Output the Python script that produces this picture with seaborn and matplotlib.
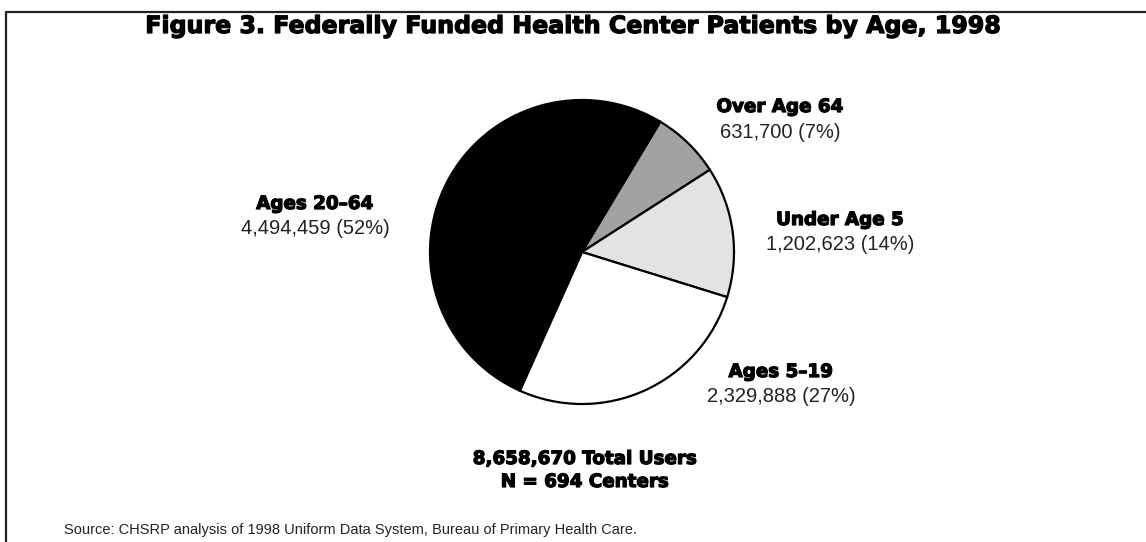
import matplotlib
matplotlib.use("Agg")
import matplotlib.pyplot as plt
import matplotlib.patheffects as pe
from matplotlib.lines import Line2D
import seaborn as sns

# ---- data ----
categories = ["Over Age 64", "Under Age 5", "Ages 5–19", "Ages 20–64"]
counts = [631700, 1202623, 2329888, 4494459]
slice_colors = ["#a2a2a2", "#e3e3e3", "#ffffff", "#000000"]
title = "Figure 3. Federally Funded Health Center Patients by Age, 1998"
total_line = "8,658,670 Total Users"
centers_line = "N = 694 Centers"
source = "Source: CHSRP analysis of 1998 Uniform Data System, Bureau of Primary Health Care."

sns.set_theme(style="white")
plt.rcParams["font.family"] = ["Liberation Sans", "DejaVu Sans"]

W, H = 1146, 542
fig = plt.figure(figsize=(W / 100, H / 100), dpi=100)
fig.patch.set_facecolor("white")

def fx(x):
    return x / W

def fy(y):
    return 1 - y / H

# pie axes: center (582, 252), radius 152 px
cx, cy, r = 582, 252, 152
ax = fig.add_axes([fx(cx - r), fy(cy + r), 2 * r / W, 2 * r / H])
ax.pie(counts, colors=slice_colors, startangle=59, counterclock=False,
       wedgeprops=dict(edgecolor="black", linewidth=1.6))
ax.set_xlim(-1.0, 1.0)
ax.set_ylim(-1.0, 1.0)
ax.set_aspect("auto")
ax.axis("off")

renderer = fig.canvas.get_renderer()

def fit(t, target_w):
    bb = t.get_window_extent(renderer=renderer)
    t.set_fontsize(t.get_fontsize() * target_w / bb.width)
    return t

thick = [pe.withStroke(linewidth=0.9, foreground="black")]
heavy = dict(family=["DejaVu Sans"], weight="heavy", color="black", path_effects=thick)
light = dict(family=["Liberation Sans", "DejaVu Sans"], weight="normal", color="#222222")

# title
t = fig.text(fx(573), fy(26), title, ha="center", va="center", fontsize=16, **heavy)
fit(t, 856)

total = sum(counts)
label_pos = {
    "Over Age 64": (780, 107),
    "Under Age 5": (840, 220),
    "Ages 5–19": (781, 372),
    "Ages 20–64": (315, 204),
}
# reference sizes
ref_bold = fig.text(0, 0, "Ages 5–19", fontsize=12, **heavy)
fit(ref_bold, 104)
bold_fs = ref_bold.get_fontsize()
ref_bold.remove()
ref_num = fig.text(0, 0, "1,202,623 (14%)", fontsize=12, **light)
fit(ref_num, 149)
num_fs = ref_num.get_fontsize()
ref_num.remove()

for cat, val in zip(categories, counts):
    x, y = label_pos[cat]
    pct = round(100 * val / total)
    fig.text(fx(x), fy(y), cat, ha="center", va="center", fontsize=bold_fs, **heavy)
    fig.text(fx(x), fy(y + 25), f"{val:,} ({pct}%)", ha="center", va="center",
             fontsize=num_fs, **light)

fig.text(fx(585), fy(459), total_line, ha="center", va="center", fontsize=bold_fs, **heavy)
fig.text(fx(585), fy(482), centers_line, ha="center", va="center", fontsize=bold_fs, **heavy)

s = fig.text(fx(64), fy(530), source, ha="left", va="center", fontsize=10, **light)
fit(s, 570)

# frame lines (top and left)
fig.add_artist(Line2D([fx(6), 1.0], [fy(12), fy(12)], transform=fig.transFigure,
                      color="#222222", lw=1.6))
fig.add_artist(Line2D([fx(6), fx(6)], [fy(12), 0.0], transform=fig.transFigure,
                      color="#222222", lw=1.6))

fig.savefig("out.png", dpi=100, facecolor="white")
